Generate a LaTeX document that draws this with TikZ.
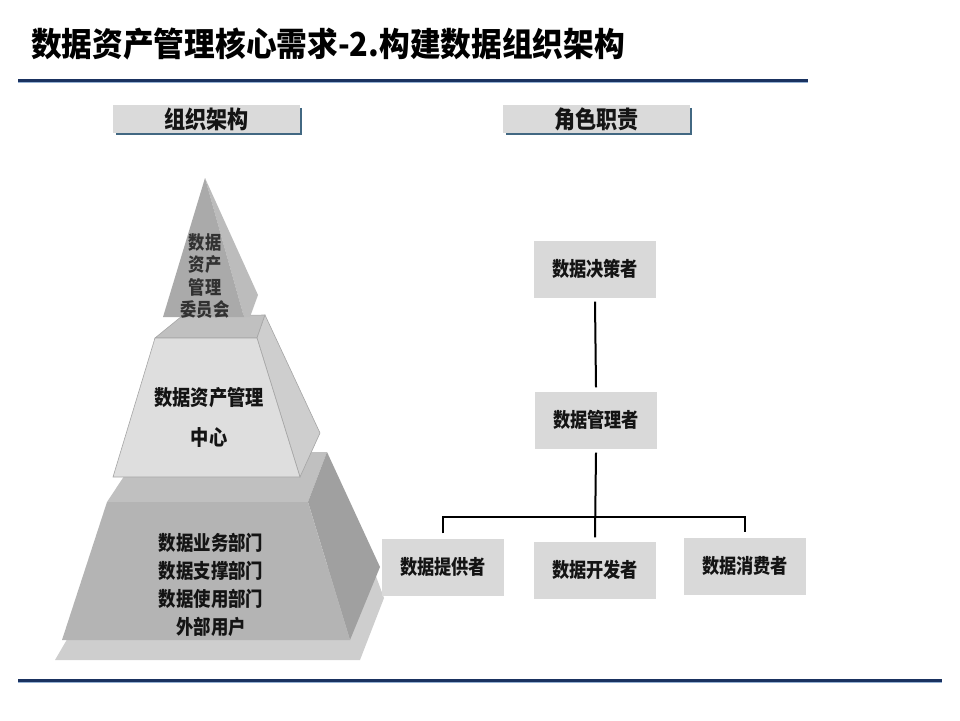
\documentclass[tikz,border=0pt]{standalone}
\usepackage{xcolor}
\usepackage{fontspec}
\usepackage{tikz}
\usetikzlibrary{positioning}
\newfontfamily\cjk{Noto Sans CJK SC}
\newcommand{\narrowtext}[2][0.87]{\scalebox{#1}[1]{#2}}
\definecolor{mynavy}{RGB}{26,50,96}
\definecolor{myrulelight}{RGB}{150,178,212}
\definecolor{mysteel}{RGB}{66,104,130}
\definecolor{tabgray}{RGB}{218,218,218}
\definecolor{boxgray}{RGB}{217,217,217}
\definecolor{pyrplate}{RGB}{206,206,206}
\definecolor{pyrdark}{RGB}{160,160,160}
\definecolor{pyrmid}{RGB}{180,180,180}
\definecolor{pyrtop}{RGB}{192,192,192}
\definecolor{pyrside}{RGB}{206,206,206}
\definecolor{pyrlight}{RGB}{222,222,222}
\definecolor{pyredge}{RGB}{165,165,165}
\definecolor{pyrtri}{RGB}{170,170,170}
\definecolor{pyrtriside}{RGB}{188,188,188}
\definecolor{mytext}{RGB}{20,20,20}
\definecolor{mytextgray}{RGB}{50,50,50}
\tikzset{
  rolebox/.style={rectangle, fill=boxgray, minimum width=122pt, minimum height=57pt,
    inner sep=0pt, text=mytext, font=\cjk\bfseries\fontsize{20}{24}\selectfont},
  tabbox/.style={rectangle, fill=tabgray, minimum width=187pt, minimum height=28pt,
    inner sep=0pt, text=mytext, font=\cjk\bfseries\fontsize{24}{26}\selectfont},
  tabshadow/.style={line width=2.2pt, color=mysteel},
  pyrtext/.style={align=center, inner sep=0pt, text=mytext},
  link/.style={line width=2pt, color=black},
  rule/.style={line width=3pt, color=mynavy}
}

\begin{document}
\begin{tikzpicture}[x=1pt, y=-1pt]
  \useasboundingbox (0,0) rectangle (960,720);

  % Title and rules
  \node[anchor=west, inner sep=0pt, text=black, font=\cjk\bfseries\fontsize{33}{38}\selectfont] (title) at (31,44) {\narrowtext[0.93]{数据资产管理核心需求-2.构建数据组织架构}};
  \draw[line width=1pt, myrulelight] (18,82) -- (808,82);
  \draw[rule] (18,80) -- (808,80);
  \draw[line width=1pt, myrulelight] (18,682) -- (942,682);
  \draw[rule] (18,680) -- (942,680);

  % Tabs
  \node[tabbox] (orgtab) at (206.5,119) {\narrowtext[0.88]{组织架构}};
  \draw[tabshadow] ([shift={(1pt,-3pt)}]orgtab.north east) |- ([shift={(3pt,-1pt)}]orgtab.south west);
  \node[tabbox] (roletab) at (596.5,119) {\narrowtext[0.88]{角色职责}};
  \draw[tabshadow] ([shift={(1pt,-3pt)}]roletab.north east) |- ([shift={(3pt,-1pt)}]roletab.south west);

  % Pyramid: bottom tier
  \fill[pyrplate] (55,660) -- (360,660) -- (384,598) -- (370,560) -- (90,600) -- cycle;
  \fill[pyrtop] (107,502) -- (140,452) -- (327,452) -- (308,502) -- cycle;
  \fill[pyrdark] (308,502) -- (327,452) -- (380,567) -- (350,640) -- cycle;
  \fill[pyrmid] (62,640) -- (107,502) -- (308,502) -- (350,640) -- cycle;

  % Pyramid: middle tier
  \fill[pyrtop, draw=pyredge, line width=0.6pt] (155,338) -- (182,316) -- (265,315) -- (257,338) -- cycle;
  \fill[pyrside, draw=pyredge, line width=0.6pt] (257,338) -- (265,315) -- (320,433) -- (300,477) -- cycle;
  \fill[pyrlight, draw=pyredge, line width=0.6pt] (113,477) -- (155,338) -- (257,338) -- (300,477) -- cycle;

  % Pyramid: top
  \fill[pyrtriside] (205,178) -- (258,295) -- (250,317) -- (244,317) -- cycle;
  \fill[pyrtri] (205,178) -- (163,317) -- (244,317) -- cycle;

  % Pyramid labels
  \node[pyrtext, text=mytextgray, font=\cjk\bfseries\fontsize{18.5}{22.5}\selectfont] (committee) at (205,276)
    {\narrowtext[0.88]{数据}\\\narrowtext[0.88]{资产}\\\narrowtext[0.88]{管理}\\\narrowtext[0.88]{委员会}};
  \node[pyrtext, font=\cjk\bfseries\fontsize{21}{40}\selectfont] (center) at (209,417)
    {\narrowtext{数据资产管理}\\\narrowtext{中心}};
  \node[pyrtext, font=\cjk\bfseries\fontsize{20}{28}\selectfont] (depts) at (211,585)
    {\narrowtext{数据业务部门}\\\narrowtext{数据支撑部门}\\\narrowtext{数据使用部门}\\\narrowtext{外部用户}};

  % Roles
  \node[rolebox] (decider) at (595,269) {\narrowtext[0.86]{数据决策者}};
  \node[rolebox] (manager) at (596,420) {\narrowtext[0.86]{数据管理者}};
  \node[rolebox] (provider) at (443,567) {\narrowtext[0.86]{数据提供者}};
  \node[rolebox] (developer) at (595,570) {\narrowtext[0.86]{数据开发者}};
  \node[rolebox] (consumer) at (745,566) {\narrowtext[0.86]{数据消费者}};
  \coordinate (bus) at (595,517);

  % Links
  \draw[link] ([yshift=-4pt]decider.south) -- ([yshift=4pt]manager.north);
  \draw[link] ([yshift=-4pt]manager.south) -- ([yshift=4pt]developer.north);
  \draw[link] ([yshift=5pt]provider.north) |- (bus) -| ([yshift=5pt]consumer.north);
\end{tikzpicture}
\end{document}
